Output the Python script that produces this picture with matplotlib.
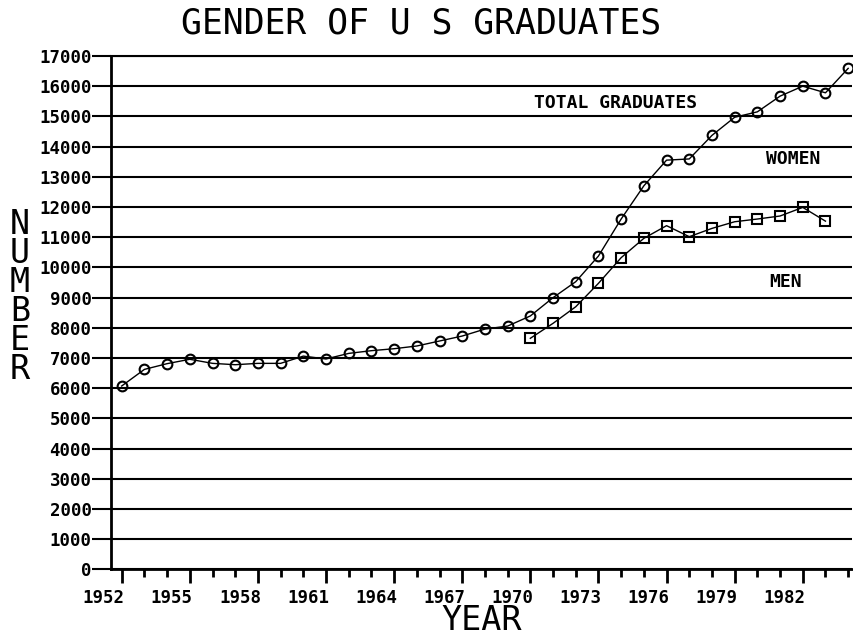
import numpy as np
import matplotlib
matplotlib.use("Agg")
import matplotlib.pyplot as plt
import matplotlib.transforms as mtransforms
from matplotlib.ticker import MultipleLocator

# data
years_total = list(range(1952, 1985))
total = [6070, 6620, 6810, 6955, 6820, 6775, 6820, 6820, 7060, 6965, 7150,
         7240, 7305, 7395, 7560, 7725, 7955, 8055, 8390, 8995, 9525, 10375,
         11600, 12700, 13550, 13590, 14370, 14970, 15150, 15670, 16000,
         15780, 16590]
years_men = list(range(1970, 1984))
men = [7650, 8145, 8695, 9470, 10320, 10960, 11380, 11015, 11290, 11510,
       11600, 11700, 11985, 11530]
year_ticks = list(range(1952, 1985, 3))
y_ticks = list(range(0, 17001, 1000))

mono = "DejaVu Sans Mono"

fig = plt.figure(figsize=(8.54, 6.39), dpi=100)
ax = fig.add_axes([0.13, 0.1091, 0.8677, 0.8033])

ax.plot(years_total, total, color="black", lw=1.0, marker="o", ms=7,
        mfc="none", mec="black", mew=1.5)
ax.plot(years_men, men, color="black", lw=1.0, marker="s", ms=6.5,
        mfc="none", mec="black", mew=1.5)

ax.set_xlim(1951.53, 1984.17)
ax.set_ylim(0, 17000)

ax.set_yticks(y_ticks)
ax.set_yticklabels([str(v) for v in y_ticks], fontfamily=mono,
                   fontweight="bold", fontsize=12.5)
ax.yaxis.grid(True, color="black", lw=1.5)
ax.set_axisbelow(True)

ax.set_xticks(year_ticks)
ax.set_xticklabels([str(v) for v in year_ticks], fontfamily=mono,
                   fontweight="bold", fontsize=12.5, ha="right")
ax.xaxis.set_minor_locator(MultipleLocator(1))
ax.tick_params(axis="x", which="major", direction="out", length=10,
               width=2, pad=4)
ax.tick_params(axis="x", which="minor", direction="out", length=6, width=2)
ax.tick_params(axis="y", direction="out", length=14, width=1.5, pad=0)

offset = mtransforms.ScaledTranslation(3 / 100, 0, fig.dpi_scale_trans)
for lbl in ax.get_xticklabels():
    lbl.set_transform(lbl.get_transform() + offset)

ax.spines["right"].set_visible(False)
ax.spines["top"].set_linewidth(1.5)
ax.spines["left"].set_linewidth(2)
ax.spines["bottom"].set_linewidth(2)

ax.text(1973.76, 15440, "TOTAL GRADUATES", fontfamily=mono,
        fontweight="bold", fontsize=13, ha="center", va="center")
ax.text(1981.57, 13590, "WOMEN", fontfamily=mono, fontweight="bold",
        fontsize=13, ha="center", va="center")
ax.text(1981.26, 9515, "MEN", fontfamily=mono, fontweight="bold",
        fontsize=13, ha="center", va="center")

fig.text(421 / 854, 1 - 24 / 639, "GENDER OF U S GRADUATES", fontfamily=mono,
         fontsize=25, ha="center", va="center")
fig.text(482 / 854, 1 - 621 / 639, "YEAR", fontfamily=mono, fontsize=24,
         ha="center", va="center")
fig.text(20 / 854, 1 - 297 / 639, "\n".join("NUMBER"), fontfamily=mono,
         fontsize=24, ha="center", va="center", linespacing=0.84)

fig.savefig("out.png", dpi=100)
